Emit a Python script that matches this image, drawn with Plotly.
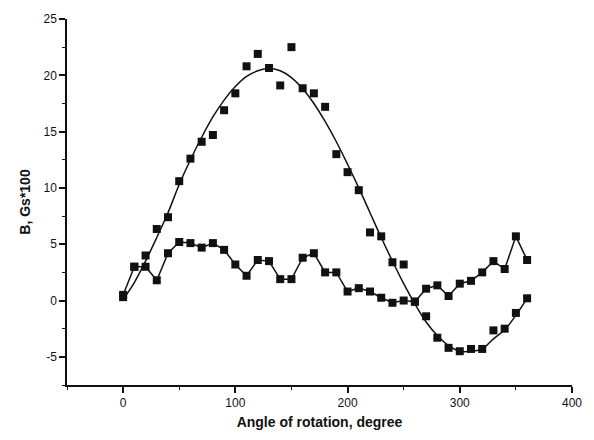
import plotly.graph_objects as go

# Angles (degrees)
angles = [0, 10, 20, 30, 40, 50, 60, 70, 80, 90, 100, 110, 120, 130, 140, 150, 160, 170,
          180, 190, 200, 210, 220, 230, 240, 250, 260, 270, 280, 290, 300, 310, 320, 330,
          340, 350, 360]

# Series 1: large oscillation (measured points)
b_series1 = [0.3, 3.0, 4.0, 6.35, 7.4, 10.6, 12.6, 14.1, 14.7, 16.9, 18.4, 20.8, 21.9, 20.65,
             19.1, 22.5, 18.85, 18.4, 17.2, 13.0, 11.4, 9.8, 6.05, 5.7, 3.4, 3.2, -0.1, -1.4,
             -3.3, -4.2, -4.5, -4.3, -4.3, -2.65, -2.5, -1.1, 0.2]

# Fitted curve through series 1
fit_curve = [0.1, 1.6, 3.5, 5.6, 7.8, 10.3, 12.5, 14.5, 16.3, 17.8, 19.0, 19.9, 20.4, 20.6,
             20.4, 19.8, 18.8, 17.5, 15.9, 14.1, 12.1, 10.0, 7.8, 5.6, 3.5, 1.5, -0.3, -1.9,
             -3.1, -4.0, -4.5, -4.5, -4.3, -3.4, -2.6, -1.3, 0.2]

# Series 2: small oscillation (connected points)
b_series2 = [0.5, 3.0, 3.0, 1.8, 4.2, 5.2, 5.1, 4.7, 5.1, 4.5, 3.2, 2.2, 3.6, 3.5, 1.9, 1.9,
             3.8, 4.2, 2.5, 2.5, 0.8, 1.1, 0.8, 0.25, -0.2, 0.0, -0.1, 1.05, 1.35, 0.4, 1.5,
             1.75, 2.5, 3.5, 2.8, 5.7, 3.6]

x_ticks = [0, 100, 200, 300, 400]
y_ticks = [-5, 0, 5, 10, 15, 20, 25]

ink = "#111111"

fig = go.Figure()
fig.add_trace(go.Scatter(
    x=angles, y=fit_curve, mode="lines",
    line=dict(color=ink, width=1.5, shape="spline", smoothing=1.0),
    hoverinfo="skip", showlegend=False))
fig.add_trace(go.Scatter(
    x=angles, y=b_series1, mode="markers",
    marker=dict(symbol="square", size=8, color=ink),
    showlegend=False))
fig.add_trace(go.Scatter(
    x=angles, y=b_series2, mode="lines+markers",
    line=dict(color=ink, width=1.5),
    marker=dict(symbol="square", size=8, color=ink),
    showlegend=False))

axis_font = dict(family="Liberation Sans, Arial, sans-serif", size=12, color=ink)
title_font = dict(family="Liberation Sans, Arial, sans-serif", size=14, color=ink)

fig.update_layout(
    width=594, height=440,
    margin=dict(l=67, r=14, t=19, b=53),
    paper_bgcolor="white", plot_bgcolor="white",
    font=axis_font,
    xaxis=dict(
        range=[-50, 400], tickvals=x_ticks, ticktext=[str(v) for v in x_ticks],
        showgrid=False, zeroline=False,
        showline=True, linecolor=ink, linewidth=1.5,
        ticks="outside", ticklen=6, tickwidth=1.5, tickcolor=ink,
        minor=dict(dtick=50, tick0=0, ticks="outside", ticklen=3, tickwidth=1.2, tickcolor=ink),
        tickfont=axis_font,
        title=dict(text="<b>Angle of rotation, degree</b>", font=title_font, standoff=8),
    ),
    yaxis=dict(
        range=[-7.5, 25], tickvals=y_ticks, ticktext=[str(v) for v in y_ticks],
        showgrid=False, zeroline=False,
        showline=True, linecolor=ink, linewidth=1.5,
        ticks="outside", ticklen=6, tickwidth=1.5, tickcolor=ink,
        minor=dict(dtick=2.5, tick0=0, ticks="outside", ticklen=3, tickwidth=1.2, tickcolor=ink),
        tickfont=axis_font,
        title=dict(text="<b>B, Gs*100</b>", font=title_font, standoff=10),
    ),
)

fig.write_html("out.html")
